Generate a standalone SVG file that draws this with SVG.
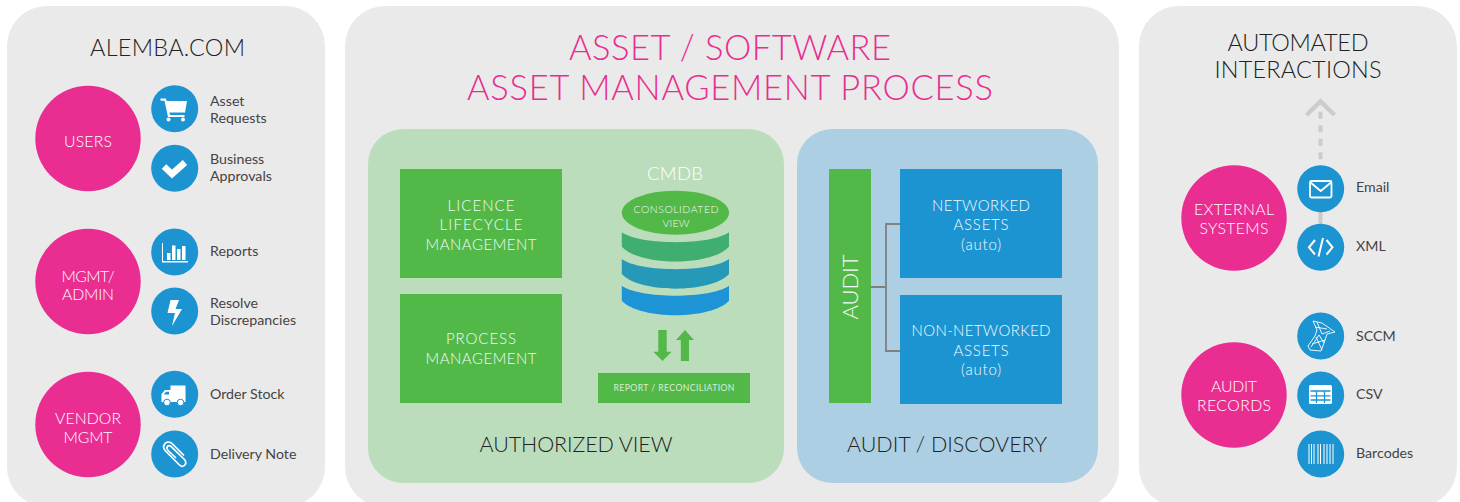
<svg xmlns="http://www.w3.org/2000/svg" width="1460" height="502" viewBox="0 0 1460 502">
<style>
text{font-family:Lato,"Open Sans",sans-serif;font-weight:300;text-anchor:middle}
.panel{fill:#eaeaea}
.pk{fill:#e92d91}
.bl{fill:#1c94d2}
.gr{fill:#52b848}
.h{fill:#222222;font-size:23.500px}
.f{fill:#222222;font-size:21.500px}
.t{fill:#444444;font-size:14.200px;font-weight:400;text-anchor:start}
.w{fill:#fff;font-size:15.800px}
.m{fill:#f4fafa;font-size:15px}
.ic{fill:#fff}
.ico{fill:none;stroke:#fff}
</style>
<rect class="panel" x="7" y="6" width="318" height="501" rx="40"/>
<rect class="panel" x="345" y="6" width="774" height="501" rx="40"/>
<rect class="panel" x="1139" y="6" width="318" height="501" rx="40"/>
<rect x="368" y="129" width="416" height="354" rx="35" fill="#bcddbb"/>
<rect x="797" y="129" width="301" height="354" rx="35" fill="#adcfe3"/>
<text class="h" x="167.500" y="55.500" textLength="155">ALEMBA.COM</text>
<text x="730" y="60" font-size="34.500" fill="#e92d91" textLength="322">ASSET / SOFTWARE</text>
<text x="730" y="100" font-size="34.500" fill="#e92d91" textLength="526">ASSET MANAGEMENT PROCESS</text>
<text class="h" x="1298" y="51" textLength="141">AUTOMATED</text>
<text class="h" x="1298" y="78" textLength="167">INTERACTIONS</text>
<text class="f" x="576" y="452" textLength="193">AUTHORIZED VIEW</text>
<text class="f" x="947" y="452" textLength="200">AUDIT / DISCOVERY</text>
<g id="connectors">
<path d="M871 287H886M900 224H886V351H900" fill="none" stroke="#808080" stroke-width="1.800"/>
<path d="M1320.500 111.700V168" fill="none" stroke="#cccccc" stroke-width="4" stroke-dasharray="7 6.500"/>
<path d="M1320.500 212V224" fill="none" stroke="#cccccc" stroke-width="4"/>
<path d="M1306.500 115L1320.500 101.500L1334.500 115" fill="none" stroke="#cccccc" stroke-width="4.500"/>
<path class="gr" d="M658.300 330H666.700V351.700H671.700L662.500 361L653.300 351.700H658.300Z"/>
<path class="gr" d="M680.800 361H689V340H694L685 330L676 340H680.800Z"/>
</g>
<g id="users"><circle class="pk" cx="88" cy="138.500" r="52.700"/><text class="w" x="88" y="147" textLength="48">USERS</text></g>
<g id="mgmt"><circle class="pk" cx="88" cy="281.500" r="52.700"/><text class="w" x="88" y="282" textLength="53">MGMT/</text><text class="w" x="88" y="300" textLength="52">ADMIN</text></g>
<g id="vendor"><circle class="pk" cx="88" cy="424.500" r="52.700"/><text class="w" x="88" y="424" textLength="66">VENDOR</text><text class="w" x="88" y="443" textLength="49">MGMT</text></g>
<g id="asset-requests"><circle class="bl" cx="174.700" cy="108.700" r="23.500"/>
<path class="ic" d="M160.500 98.500H165.500L167 101H187L185 112.500H169.500L170 115H184.500V117H168L164.500 100.800H160.500Z"/><circle class="ic" cx="168.500" cy="119.500" r="2"/><circle class="ic" cx="183" cy="119.500" r="2"/>
<text class="t" x="210" y="106">Asset</text><text class="t" x="210" y="123">Requests</text></g>
<g id="business-approvals"><circle class="bl" cx="174.700" cy="168.300" r="23.500"/>
<path class="ico" stroke-width="6.500" d="M164 166.500L172 174L185 162.500"/>
<text class="t" x="210" y="164">Business</text><text class="t" x="210" y="181">Approvals</text></g>
<g id="reports"><circle class="bl" cx="174.700" cy="252" r="23.500"/>
<path class="ic" d="M162 243H163V261H188V262.500H162Z"/><rect class="ic" x="167" y="253" width="3.500" height="7"/><rect class="ic" x="172" y="245.500" width="3.500" height="14.500"/><rect class="ic" x="177" y="249" width="3.500" height="11"/><rect class="ic" x="182" y="246" width="3.500" height="14"/>
<text class="t" x="210" y="256">Reports</text></g>
<g id="resolve"><circle class="bl" cx="174.700" cy="311" r="23.500"/>
<path class="ic" d="M170.500 300H179L175.500 309H182L172 326L175 313H167.500Z"/>
<text class="t" x="210" y="308">Resolve</text><text class="t" x="210" y="325">Discrepancies</text></g>
<g id="order-stock"><circle class="bl" cx="174.700" cy="394.300" r="23.500"/>
<path class="ic" d="M170.500 385.500H185.500V402H161.500V394L165 390H170.500Z"/><circle class="ic" cx="167" cy="402.500" r="3.300" stroke="#1c94d2"/><circle class="ic" cx="180.500" cy="402.500" r="3.300" stroke="#1c94d2"/><path fill="#1c94d2" d="M163.800 394.500L166 391.800H169V394.500Z"/>
<text class="t" x="210" y="399">Order Stock</text></g>
<g id="delivery-note"><circle class="bl" cx="174.700" cy="454" r="23.500"/>
<path class="ico" stroke-width="1.700" d="M176 458L168 450.500C165.500 447 168 444.500 171 446.500L184.500 459.500C188 464 183 468.500 179.500 465L165.500 451C160.500 445 167.500 439 172.500 444L184 455.500"/>
<text class="t" x="210" y="459">Delivery Note</text></g>
<g id="licence"><rect class="gr" x="400" y="169" width="162" height="109"/><text class="m" x="481" y="211" textLength="67">LICENCE</text><text class="m" x="481" y="230" textLength="83">LIFECYCLE</text><text class="m" x="481" y="250" textLength="111">MANAGEMENT</text></g>
<g id="process"><rect class="gr" x="400" y="294" width="162" height="109"/><text class="m" x="481" y="344" textLength="70">PROCESS</text><text class="m" x="481" y="364" textLength="111">MANAGEMENT</text></g>
<g id="cmdb">
<text x="675" y="180" font-size="18.500" fill="#fff" textLength="56">CMDB</text>
<path fill="#1c94d6" d="M621.800 285.700C640 299 711 299 729 285.700V300.700C711 320 640 320 621.800 300.700Z"/>
<path fill="#2699b8" d="M621.800 259C640 272.500 711 272.500 729 259V274C711 293.500 640 293.500 621.800 274Z"/>
<path fill="#3fae6f" d="M621.800 232.300C640 245.500 711 245.500 729 232.300V246.700C711 266.500 640 266.500 621.800 246.700Z"/>
<ellipse class="gr" cx="675.400" cy="212.700" rx="53.600" ry="22"/>
<text x="676" y="213" font-size="10.500" fill="#f3f8f8" textLength="85">CONSOLIDATED</text><text x="676" y="227" font-size="10.500" fill="#f3f8f8" textLength="27">VIEW</text>
</g>
<g id="report"><rect class="gr" x="598" y="373" width="152" height="30"/><text x="674" y="391" font-size="8.700" fill="#d8eed5" style="font-weight:400" textLength="121">REPORT / RECONCILIATION</text></g>
<g id="audit"><rect class="gr" x="829" y="169" width="42" height="234"/><text transform="translate(858 287) rotate(-90)" font-size="22" fill="#f3f8f8" textLength="65">AUDIT</text></g>
<g id="networked"><rect class="bl" x="900" y="169" width="162" height="109"/><text class="m" x="981" y="211" textLength="98">NETWORKED</text><text class="m" x="981" y="230" textLength="55">ASSETS</text><text class="m" x="981" y="250" textLength="40">(auto)</text></g>
<g id="non-networked"><rect class="bl" x="900" y="295" width="162" height="109"/><text class="m" x="981" y="336" textLength="139">NON-NETWORKED</text><text class="m" x="981" y="356" textLength="55">ASSETS</text><text class="m" x="981" y="375" textLength="40">(auto)</text></g>
<g id="external"><circle class="pk" cx="1234" cy="218" r="52.700"/><text class="w" x="1234" y="215" textLength="80">EXTERNAL</text><text class="w" x="1234" y="234" textLength="69">SYSTEMS</text></g>
<g id="email"><circle class="bl" cx="1320.700" cy="188.700" r="23.500"/>
<rect class="ico" stroke-width="1.800" x="1310" y="181" width="21.500" height="16.500" rx="1.500"/><path class="ico" stroke-width="1.800" d="M1310.500 182.500L1320.700 191L1331 182.500"/>
<text class="t" x="1356" y="192">Email</text></g>
<g id="xml"><circle class="bl" cx="1320.700" cy="247.300" r="23.500"/>
<path class="ico" stroke-width="2" d="M1315 240L1309 247.300L1315 254.500M1326.500 240L1332.500 247.300L1326.500 254.500M1323 238L1318.500 256.500"/>
<text class="t" x="1356" y="251">XML</text></g>
<g id="audit-records"><circle class="pk" cx="1234" cy="395" r="52.700"/><text class="w" x="1234" y="392" textLength="46">AUDIT</text><text class="w" x="1234" y="411" textLength="74">RECORDS</text></g>
<g id="sccm"><circle class="bl" cx="1320.700" cy="336" r="23.500"/>
<path class="ico" stroke-width="0.900" d="M1313 321L1322 323L1335 332L1327 334L1324 343L1321 351L1310 350L1308 346L1315 336L1317 330ZM1317 322L1322 334L1330 331M1315 327L1327 329M1312 344L1325 340M1316 337L1322 350M1311 347L1319 335L1324 343"/>
<text class="t" x="1356" y="341">SCCM</text></g>
<g id="csv"><circle class="bl" cx="1320.700" cy="395" r="23.500"/>
<rect class="ic" x="1309" y="385" width="23" height="19" rx="1.500"/><path fill="none" stroke="#1c94d2" stroke-width="1.300" d="M1310.500 391H1330.500M1310.500 395.800H1330.500M1310.500 400H1330.500M1316.500 391V403M1324.500 391V403"/>
<text class="t" x="1356" y="399">CSV</text></g>
<g id="barcodes"><circle class="bl" cx="1320.700" cy="454" r="23.500"/>
<path fill="none" stroke="#fff" d="M1309 444V464M1311.500 444V464M1314 444V464M1318 444V464M1320.500 444V464M1324 444V464M1327 444V464M1330 444V464M1333 444V464"/>
<text class="t" x="1356" y="458">Barcodes</text></g>
</svg>
